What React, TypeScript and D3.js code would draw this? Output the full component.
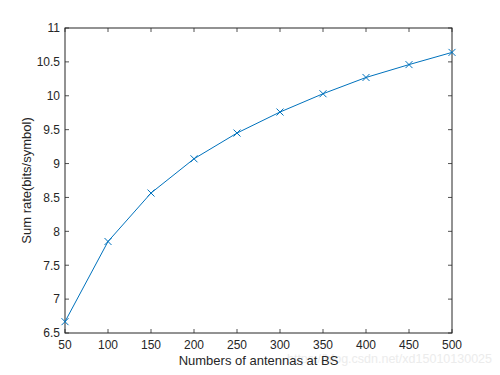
import React from "react";
import * as d3 from "d3";

const antennas = [50, 100, 150, 200, 250, 300, 350, 400, 450, 500];
const sumRate = [6.667, 7.85, 8.565, 9.07, 9.45, 9.76, 10.03, 10.27, 10.46, 10.64];
const xTicks = [50, 100, 150, 200, 250, 300, 350, 400, 450, 500];
const yTicks = [6.5, 7, 7.5, 8, 8.5, 9, 9.5, 10, 10.5, 11];
const xLabel = "Numbers of antennas at BS";
const yLabel = "Sum rate(bits/symbol)";
const watermark = "https://blog.csdn.net/xd15010130025";

export default function App() {
  const W = 500, H = 375;
  const L = 65, R = 452, T = 28, B = 333;
  const x = d3.scaleLinear().domain([50, 500]).range([L, R]);
  const y = d3.scaleLinear().domain([6.5, 11]).range([B, T]);
  const line = d3.line<number>().x((_, i) => x(antennas[i])).y((d) => y(d));
  const axisColor = "#262626";
  const font = "Liberation Sans, Arial, Helvetica, sans-serif";
  const tl = 4;
  return (
    <svg width={W} height={H} style={{ position: "absolute", left: 0, top: 0, background: "#fff" }} fontFamily={font}>
      <rect x={0} y={0} width={W} height={H} fill="#fff" />
      <text x={492} y={363} textAnchor="end" fontSize={12.5} fill="#ececec">{watermark}</text>
      {xTicks.map((t) => (
        <g key={"x" + t}>
          <line x1={x(t)} x2={x(t)} y1={B} y2={B - tl} stroke={axisColor} strokeWidth={0.8} />
          <line x1={x(t)} x2={x(t)} y1={T} y2={T + tl} stroke={axisColor} strokeWidth={0.8} />
          <text x={x(t)} y={349} textAnchor="middle" fontSize={12} fill={axisColor}>{t}</text>
        </g>
      ))}
      {yTicks.map((t) => (
        <g key={"y" + t}>
          <line x1={L} x2={L + tl} y1={y(t)} y2={y(t)} stroke={axisColor} strokeWidth={0.8} />
          <line x1={R} x2={R - tl} y1={y(t)} y2={y(t)} stroke={axisColor} strokeWidth={0.8} />
          <text x={L - 5} y={y(t) + 4.3} textAnchor="end" fontSize={12} fill={axisColor}>{t}</text>
        </g>
      ))}
      <rect x={L} y={T} width={R - L} height={B - T} fill="none" stroke={axisColor} strokeWidth={1} />
      <path d={line(sumRate) || ""} fill="none" stroke="#0072BD" strokeWidth={1} />
      {sumRate.map((v, i) => {
        const cx = x(antennas[i]), cy = y(v), s = 3.5;
        return (
          <g key={"m" + i} stroke="#0072BD" strokeWidth={1}>
            <line x1={cx - s} y1={cy - s} x2={cx + s} y2={cy + s} />
            <line x1={cx - s} y1={cy + s} x2={cx + s} y2={cy - s} />
          </g>
        );
      })}
      <text x={(L + R) / 2} y={365} textAnchor="middle" fontSize={13} fill={axisColor}>{xLabel}</text>
      <text transform={`translate(31,${(T + B) / 2}) rotate(-90)`} textAnchor="middle" fontSize={13} fill={axisColor}>{yLabel}</text>
    </svg>
  );
}
